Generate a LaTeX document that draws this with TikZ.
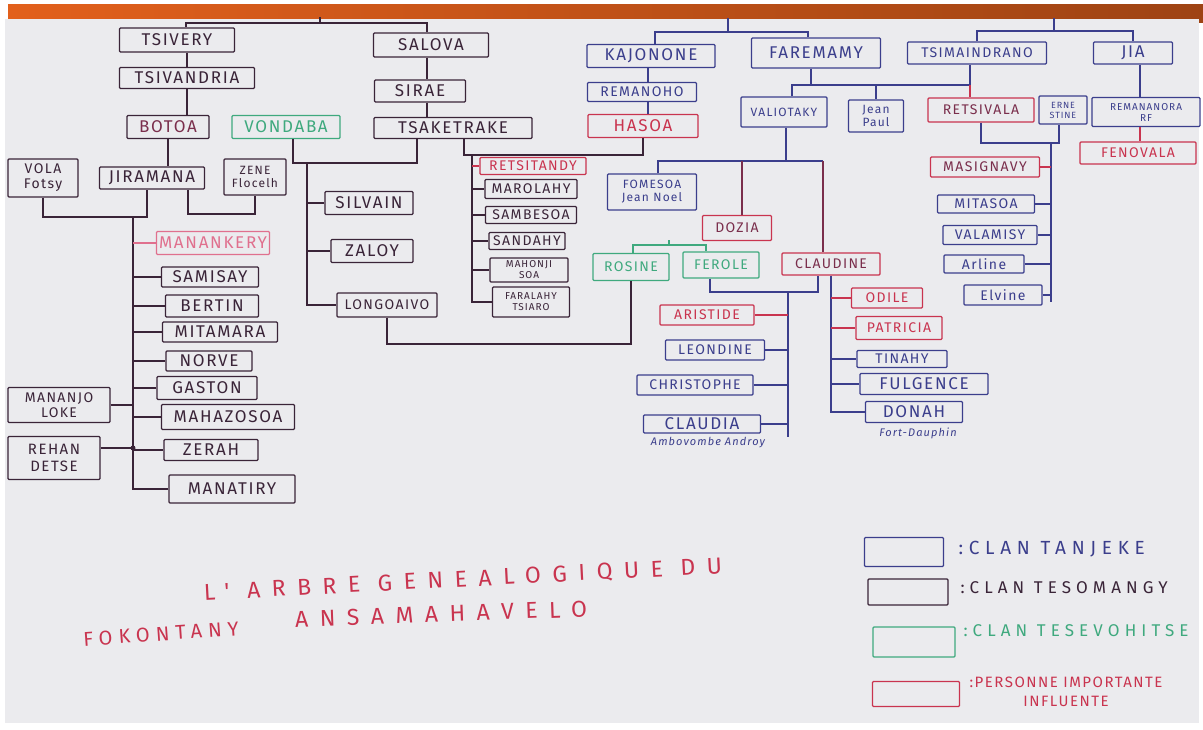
\documentclass[tikz,border=0pt]{standalone}
\usepackage{fontspec}
\usepackage{tikz}
\usetikzlibrary{calc}
\newfontfamily\hand{Fira Sans}[LetterSpace=10]
\newfontfamily\handwide{Fira Sans}[LetterSpace=30]
\newfontfamily\handwider{Fira Sans}[LetterSpace=50]
\definecolor{inkblue}{HTML}{3B3E8C}
\definecolor{inkdark}{HTML}{3A2438}
\definecolor{inkgreen}{HTML}{3FA97E}
\definecolor{inkred}{HTML}{C9344F}
\definecolor{inkpink}{HTML}{E0708E}
\definecolor{inkmaroon}{HTML}{7A2E4C}
\definecolor{paper}{HTML}{EBEBEE}
\definecolor{band}{HTML}{E2601C}
\tikzset{
  pbox/.style={rectangle,line width=1.3pt,rounded corners=1pt,inner sep=1pt,align=center,
               font=\hand\fontsize{14}{15}\selectfont},
  wh/.style 2 args={minimum width=#1,minimum height=#2},
  tanjeke/.style={pbox,draw=inkblue,text=inkblue},
  tesomangy/.style={pbox,draw=inkdark,text=inkdark},
  tesevohitse/.style={pbox,draw=inkgreen,text=inkgreen},
  influent/.style={pbox,draw=inkred,text=inkred},
  fbig/.style={font=\hand\fontsize{17}{18}\selectfont},
  fsmall/.style={font=\hand\fontsize{12}{13}\selectfont},
  ftiny/.style={font=\hand\fontsize{10}{11}\selectfont},
  fmicro/.style={font=\hand\fontsize{9}{10}\selectfont},
  link/.style={line width=1.5pt,draw=inkdark},
  bluelink/.style={link,draw=inkblue},
  redlink/.style={link,draw=inkred},
  greenlink/.style={link,draw=inkgreen},
  maroonlink/.style={link,draw=inkmaroon},
  place/.style={inkblue,font=\hand\itshape\fontsize{11}{12}\selectfont},
  legendtext/.style={anchor=west,font=\handwide\fontsize{17}{19}\selectfont},
  headline/.style={inkred,font=\handwider\fontsize{23}{25}\selectfont}
}

\begin{document}
\begin{tikzpicture}[x=1pt,y=-1pt]
\useasboundingbox (0,0) rectangle (1203,729);
% paper sheet
\fill[white] (0,0) rectangle (1203,729);
\shade[left color=band,right color=band!70!black] (8,4) rectangle (1203,22);
\fill[paper] (5,19) rectangle (1199,723);

% left family: tsivery
\node[tesomangy,fbig,wh={115}{24}] (tsivery) at (177,40) {TSIVERY};
\node[tesomangy,fbig,wh={135}{21}] (tsivandria) at (187,78) {TSIVANDRIA};
\node[tesomangy,fbig,wh={82}{23},text=inkmaroon] (botoa) at (168,127) {BOTOA};
\node[tesevohitse,fbig,wh={108}{23}] (vondaba) at (286,127) {VONDABA};
\node[tesomangy,wh={70}{38}] (volafotsy) at (43,178) {VOLA\\Fotsy};
\node[tesomangy,fbig,wh={105}{22}] (jiramana) at (152,178) {JIRAMANA};
\node[tesomangy,fsmall,wh={62}{36}] (zene) at (255,177) {ZENE\\Flocelh};
\node[pbox,draw=inkpink,text=inkpink,fbig,wh={113}{23}] (manankery) at (213,243) {MANANKERY};
\node[tesomangy,fbig,wh={97}{20}] (samisay) at (210,277) {SAMISAY};
\node[tesomangy,fbig,wh={93}{22}] (bertin) at (212,306) {BERTIN};
\node[tesomangy,fbig,wh={115}{20}] (mitamara) at (220,332) {MITAMARA};
\node[tesomangy,fbig,wh={86}{20}] (norve) at (209,361) {NORVE};
\node[tesomangy,fbig,wh={100}{23}] (gaston) at (207,388) {GASTON};
\node[tesomangy,fbig,wh={133}{25}] (mahazosoa) at (228,417) {MAHAZOSOA};
\node[tesomangy,fbig,wh={94}{21}] (zerah) at (211,450) {ZERAH};
\node[tesomangy,fbig,wh={126}{28}] (manatiry) at (232,489) {MANATIRY};
\node[tesomangy,wh={102}{35}] (mananjo) at (59,405) {MANANJO\\LOKE};
\node[tesomangy,font=\hand\fontsize{15}{17}\selectfont,wh={92}{43}] (rehan) at (54,458) {REHAN\\DETSE};

% salova
\node[tesomangy,fbig,wh={115}{24}] (salova) at (431,45) {SALOVA};
\node[tesomangy,fbig,wh={91}{22}] (sirae) at (420,91) {SIRAE};
\node[tesomangy,fbig,wh={158}{21}] (tsaketrake) at (453,128) {TSAKETRAKE};
\node[tesomangy,fbig,wh={88}{23}] (silvain) at (369,203) {SILVAIN};
\node[tesomangy,fbig,wh={82}{23}] (zaloy) at (372,251) {ZALOY};
\node[tesomangy,wh={100}{24}] (longoaivo) at (387,305) {LONGOAIVO};
\node[influent,wh={106}{17}] (retsitandy) at (533,166) {RETSITANDY};
\node[tesomangy,wh={92}{19}] (marolahy) at (531,189) {MAROLAHY};
\node[tesomangy,wh={91}{17}] (sambesoa) at (531,215) {SAMBESOA};
\node[tesomangy,wh={76}{17}] (sandahy) at (527,241) {SANDAHY};
\node[tesomangy,ftiny,wh={78}{24}] (mahonji) at (529,270) {MAHONJI\\SOA};
\node[tesomangy,ftiny,wh={77}{30}] (faralahy) at (531,302) {FARALAHY\\TSIARO};

% kajonone and faremamy
\node[tanjeke,fbig,wh={128}{23}] (kajonone) at (651,56) {KAJONONE};
\node[tanjeke,wh={109}{19}] (remanoho) at (642,92) {REMANOHO};
\node[influent,fbig,wh={110}{23}] (hasoa) at (643,126) {HASOA};
\node[tanjeke,fbig,wh={129}{30}] (faremamy) at (816,53) {FAREMAMY};
\node[tanjeke,fsmall,wh={86}{30}] (valiotaky) at (784,112) {VALIOTAKY};
\node[tanjeke,fsmall,wh={55}{32}] (jeanpaul) at (876,116) {Jean\\Paul};
\node[tanjeke,fsmall,wh={89}{36}] (fomesoa) at (652,192) {FOMESOA\\Jean Noel};
\node[influent,text=inkmaroon,wh={69}{25}] (dozia) at (737,228) {DOZIA};
\node[tesevohitse,wh={76}{27}] (rosine) at (631,267) {ROSINE};
\node[tesevohitse,wh={76}{26}] (ferole) at (721,265) {FEROLE};
\node[influent,text=inkmaroon,wh={98}{22}] (claudine) at (831,264) {CLAUDINE};
\node[influent,wh={94}{20}] (aristide) at (707,315) {ARISTIDE};
\node[tanjeke,wh={99}{20}] (leondine) at (715,350) {LEONDINE};
\node[tanjeke,wh={116}{20}] (christophe) at (695,385) {CHRISTOPHE};
\node[tanjeke,fbig,wh={117}{18}] (claudia) at (702,424) {CLAUDIA};
\node[place] (ambovombe) at (708,443) {Ambovombe Androy};
\node[influent,wh={71}{20}] (odile) at (887,298) {ODILE};
\node[influent,wh={86}{23}] (patricia) at (899,328) {PATRICIA};
\node[tanjeke,wh={90}{17}] (tinahy) at (902,359) {TINAHY};
\node[tanjeke,fbig,wh={128}{21}] (fulgence) at (924,384) {FULGENCE};
\node[tanjeke,fbig,wh={97}{21}] (donah) at (914,412) {DONAH};
\node[place] (fortdauphin) at (918,433) {Fort-Dauphin};

% tsimaindrano and jia
\node[tanjeke,wh={139}{22}] (tsimaindrano) at (977,53) {TSIMAINDRANO};
\node[tanjeke,fbig,wh={79}{22}] (jia) at (1133,53) {JIA};
\node[influent,text=inkmaroon,wh={106}{24}] (retsivala) at (981,110) {RETSIVALA};
\node[tanjeke,fmicro,wh={48}{28}] (ernestine) at (1063,110) {ERNE\\STINE};
\node[tanjeke,ftiny,wh={108}{29}] (remananora) at (1146,112) {REMANANORA\\RF};
\node[influent,wh={116}{22}] (fenovala) at (1138,153) {FENOVALA};
\node[influent,text=inkmaroon,wh={109}{20}] (masignavy) at (985,167) {MASIGNAVY};
\node[tanjeke,wh={97}{18}] (mitasoa) at (986,204) {MITASOA};
\node[tanjeke,wh={94}{19}] (valamisy) at (990,235) {VALAMISY};
\node[tanjeke,wh={80}{18}] (arline) at (984,264) {Arline};
\node[tanjeke,wh={78}{20}] (elvine) at (1003,295) {Elvine};

% junctions
\coordinate (top1) at (320,23);
\coordinate (top2) at (728,32);
\coordinate (top3) at (1054,31);
\coordinate (jirFam) at (133,217);
\coordinate (zeneFam) at (220,214);
\coordinate (tsaFam) at (307,163);
\coordinate (hasFam) at (472,155);
\coordinate (rosFam) at (500,344);
\coordinate (farFam) at (811,85);
\coordinate (tsiFam) at (970,85);
\coordinate (valFam) at (786,161);
\coordinate (rfTop) at (669,245);
\coordinate (claFam) at (788,292);
\coordinate (claEnd) at (788,437);
\coordinate (retFam) at (1051,143);
\coordinate (retEnd) at (1051,302);

% top links
\draw[link] ([xshift=9]tsivery.north) |- (top1) -| ([xshift=-4]salova.north);
\draw[link] (top1) -- ++(0,-6);
\draw[bluelink] ([xshift=4]kajonone.north) |- (top2) -| ([xshift=-8]faremamy.north);
\draw[bluelink] (top2) -- ++(0,-14);
\draw[bluelink] (tsimaindrano.north) |- (top3) -| (jia.north);
\draw[bluelink] (top3) -- ++(0,-13);

% tsivery line
\draw[link] (tsivery.south -| tsivandria.north) -- (tsivandria.north);
\draw[link] (tsivandria.south) -- (tsivandria.south |- botoa.north);
\draw[link] (botoa.south) -- (jiramana.north -| botoa.south);
\draw[link] (volafotsy.south) |- (jirFam) -| ([xshift=-5]jiramana.south);
\draw[link] ([xshift=36]jiramana.south) |- (zeneFam) -| (zene.south);
\draw[link] (jirFam) |- (manatiry.west);
\draw[link,draw=inkpink] (jirFam |- manankery.west) -- (manankery.west);
\foreach \kid in {samisay,bertin,mitamara,norve,gaston,mahazosoa,zerah}
  \draw[link] (jirFam |- \kid.west) -- (\kid.west);
\draw[link] (mananjo.east) -- (mananjo.east -| jirFam);
\draw[link] ([yshift=10]rehan.east) -- ([yshift=10]rehan.east -| jirFam);
\fill[inkdark] ([yshift=10]rehan.east -| jirFam) circle (2.5);

% salova line
\draw[link] ([xshift=-4]salova.south) -- ([xshift=-4]salova.south |- sirae.north);
\draw[link] ([xshift=-4]salova.south |- sirae.south) -- ([xshift=-4]salova.south |- tsaketrake.north);
\draw[link] ([xshift=7]vondaba.south) |- (tsaFam) -| ([xshift=-36]tsaketrake.south);
\draw[link] (tsaFam) |- (longoaivo.west);
\draw[link] (tsaFam |- silvain.west) -- (silvain.west);
\draw[link] (tsaFam |- zaloy.west) -- (zaloy.west);
\draw[link] ([xshift=11]tsaketrake.south) |- (hasFam) -| (hasoa.south);
\draw[link] (hasFam) |- (faralahy.west);
\draw[redlink] (hasFam |- retsitandy.west) -- (retsitandy.west);
\foreach \kid in {marolahy,sambesoa,sandahy,mahonji}
  \draw[link] (hasFam |- \kid.west) -- (\kid.west);
\draw[link] (longoaivo.south) |- (rosFam) -| (rosine.south);

% kajonone and faremamy lines
\draw[bluelink] ([xshift=-3]kajonone.south) -- ([xshift=-3]kajonone.south |- remanoho.north);
\draw[bluelink] ([xshift=-3]kajonone.south |- remanoho.south) -- ([xshift=-3]kajonone.south |- hasoa.north);
\draw[bluelink] ([xshift=-5]faremamy.south) -- (farFam);
\draw[bluelink] ([xshift=8]valiotaky.north) |- (farFam) -| (jeanpaul.north);
\draw[bluelink] (farFam) -- (tsiFam);
\draw[bluelink] (tsimaindrano.south -| tsiFam) -- (tsiFam);
\draw[redlink] (tsiFam) -- (retsivala.north -| tsiFam);
\draw[bluelink] (valiotaky.south -| valFam) -- (valFam);
\draw[bluelink] ([xshift=6]fomesoa.north) |- (valFam) -| ([xshift=-8]claudine.north |- valFam);
\draw[maroonlink] ([xshift=-8]claudine.north |- valFam) -- ([xshift=-8]claudine.north);
\draw[maroonlink] ([xshift=5]dozia.north |- valFam) -- ([xshift=5]dozia.north);
\draw[greenlink] ([xshift=2]rosine.north) |- (rfTop) -| ([xshift=-15]ferole.north);
\draw[greenlink] (rfTop) -- ++(0,-5);
\draw[bluelink] ([xshift=-11]ferole.south) |- (claFam) -| ([xshift=-13]claudine.south);
\draw[bluelink] (claFam) -- (claEnd);
\draw[redlink] (aristide.east) -- (aristide.east -| claFam);
\foreach \kid in {leondine,christophe,claudia}
  \draw[bluelink] (\kid.east) -- (\kid.east -| claFam);
\draw[bluelink] (claudine.south) |- (donah.west);
\draw[redlink] (claudine.south |- odile.west) -- (odile.west);
\draw[redlink] (claudine.south |- patricia.west) -- (patricia.west);
\draw[bluelink] (claudine.south |- tinahy.west) -- (tinahy.west);
\draw[bluelink] (claudine.south |- fulgence.west) -- (fulgence.west);

% tsimaindrano and jia lines
\draw[bluelink] (retsivala.south) |- (retFam) -| ([xshift=-4]ernestine.south);
\draw[bluelink] (retFam) -- (retEnd);
\draw[redlink] (masignavy.east) -- (masignavy.east -| retFam);
\foreach \kid in {mitasoa,valamisy,arline,elvine}
  \draw[bluelink] (\kid.east) -- (\kid.east -| retFam);
\draw[bluelink] ([xshift=7]jia.south) -- ([xshift=7]jia.south |- remananora.north);
\draw[redlink] ([xshift=7]jia.south |- remananora.south) -- ([xshift=7]jia.south |- fenovala.north);

% legend
\node[tanjeke,wh={79}{29}] (lgTanjeke) at (904,552) {};
\node[legendtext,inkblue,font=\handwide\fontsize{19}{21}\selectfont] (lgTanjekeText) at (955,549) {:CLAN TANJEKE};
\node[tesomangy,wh={80}{26}] (lgTesomangy) at (908,592) {};
\node[legendtext,inkdark] (lgTesomangyText) at (957,588) {:CLAN TESOMANGY};
\node[tesevohitse,wh={82}{30}] (lgTesevohitse) at (914,642) {};
\node[legendtext,inkgreen] (lgTesevohitseText) at (960,631) {:CLAN TESEVOHITSE};
\node[influent,wh={87}{25}] (lgInfluent) at (916,694) {};
\node[legendtext,inkred,align=center,font=\hand\fontsize{15}{19}\selectfont] (lgInfluentText) at (966,692) {:PERSONNE IMPORTANTE\\INFLUENTE};

% title
\node[headline,rotate=3] (titleA) at (463,580) {L' ARBRE GENEALOGIQUE DU};
\node[headline,rotate=4,font=\handwide\fontsize{20}{22}\selectfont] (titleB) at (161,634) {FOKONTANY};
\node[headline,rotate=2] (titleC) at (441,614) {ANSAMAHAVELO};
\end{tikzpicture}
\end{document}
